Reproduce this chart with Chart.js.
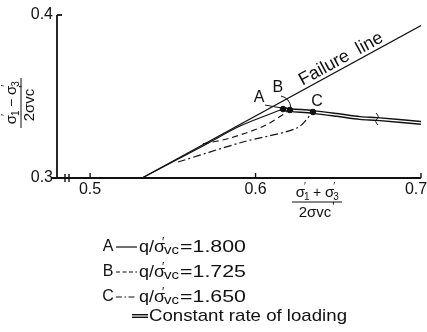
<!DOCTYPE html>
<html>
<head>
<meta charset="utf-8">
<script src="https://cdn.jsdelivr.net/npm/chart.js@4"></script>
<style>
  html, body { margin: 0; padding: 0; background: #fff; }
  #wrap { width: 427px; height: 332px; }
</style>
</head>
<body>
<div id="wrap"><canvas id="chart" width="427" height="332"></canvas></div>
<script>
// axis ranges and ticks
const xMin = 0.48, xMax = 0.7;
const yMin = 0.3, yMax = 0.4;
const xTicks = [0.5, 0.6, 0.7];
const yTicks = [0.3, 0.4];

// curves: [x, y]
const failureLine = [[0.5314, 0.3], [0.7, 0.3935]];
const curveA = [[0.5314, 0.3], [0.5682, 0.3196], [0.5906, 0.3319], [0.6166, 0.3423]];
const curveB = [[0.5682, 0.3209], [0.5846, 0.3245], [0.6057, 0.3322], [0.6208, 0.3417]];
const curveC = [[0.5531, 0.3098], [0.5924, 0.3221], [0.6251, 0.3307], [0.6347, 0.3405]];
const constantRate = [[0.6166, 0.3423], [0.6208, 0.3417], [0.6347, 0.3405], [0.6492, 0.3387],
  [0.6631, 0.3368], [0.6734, 0.3362], [0.7, 0.3338]];
const failPoints = [[0.6166, 0.3423], [0.6208, 0.3417], [0.6347, 0.3405]];
const pointNames = ['A', 'B', 'C'];
const loadRatios = ['1.800', '1.725', '1.650'];
const breakAt = [0.6734, 0.3362];

const xy = arr => arr.map(p => ({ x: p[0], y: p[1] }));
const FONT = '"Liberation Sans", Arial, sans-serif';

function line(ctx, x1, y1, x2, y2) {
  ctx.beginPath(); ctx.moveTo(x1, y1); ctx.lineTo(x2, y2); ctx.stroke();
}

function txt(ctx, s, x, y, size, align) {
  ctx.font = size + 'px ' + FONT;
  ctx.textAlign = align || 'left';
  ctx.textBaseline = 'middle';
  ctx.fillText(s, x, y);
  return ctx.measureText(s).width;
}

// text stretched to a given width, left aligned
function fit(ctx, s, x, y, size, width) {
  ctx.font = size + 'px ' + FONT;
  const w = ctx.measureText(s).width;
  ctx.save();
  ctx.translate(x, y);
  ctx.scale(width / w, 1);
  ctx.textAlign = 'left';
  ctx.textBaseline = 'middle';
  ctx.fillText(s, 0, 0);
  ctx.restore();
  return width;
}

// "σ′1 ± σ′3" centred at x
function sigmaPair(ctx, x, y, op) {
  const parts = [['σ', 15], [' ' + op + ' ', 14], ['σ', 15]];
  let w = 0;
  parts.forEach(p => { ctx.font = p[1] + 'px ' + FONT; w += ctx.measureText(p[0]).width + (p[0] === 'σ' ? 4 : 0); });
  let cx = x - w / 2;
  ctx.textAlign = 'left'; ctx.textBaseline = 'middle';
  parts.forEach((p, i) => {
    ctx.font = p[1] + 'px ' + FONT;
    ctx.fillText(p[0], cx, y);
    const mw = ctx.measureText(p[0]).width;
    if (p[0] === 'σ') {
      ctx.font = '10px ' + FONT;
      ctx.fillText('′', cx + mw - 1, y - 6);
      ctx.fillText(i === 0 ? '1' : '3', cx + mw - 1, y + 4);
      cx += mw + 4;
    } else cx += mw;
  });
  return w;
}

function denom(ctx, x, y) {
  ctx.font = '15px ' + FONT;
  const w = ctx.measureText('2σvc').width;
  txt(ctx, '2σvc', x - 2, y, 15, 'center');
  txt(ctx, "'", x - 1 + w / 2, y - 5, 12);
}

const decorations = {
  id: 'decorations',
  afterDraw(chart) {
    const { ctx, chartArea: a, scales: { x, y } } = chart;
    ctx.save();
    ctx.strokeStyle = '#111';
    ctx.fillStyle = '#111';

    // axes
    ctx.lineWidth = 1.8;
    line(ctx, a.left, a.top, a.left, a.bottom);
    line(ctx, a.left - 5, a.bottom, a.right, a.bottom);
    line(ctx, a.left, a.top, a.left + 5, a.top);
    // axis break
    ctx.lineWidth = 1.4;
    line(ctx, a.left + 8, a.bottom - 4, a.left + 8, a.bottom + 4);
    line(ctx, a.left + 12, a.bottom - 4, a.left + 12, a.bottom + 4);
    // x ticks, pointing up
    xTicks.forEach(v => {
      const px = x.getPixelForValue(v);
      line(ctx, px, a.bottom, px, a.bottom - 5);
      txt(ctx, v.toFixed(1), Math.min(px, 427 - 11), a.bottom + 12, 16, 'center');
    });
    yTicks.forEach(v => {
      txt(ctx, v.toFixed(1), a.left - 4, y.getPixelForValue(v), 16, 'right');
    });

    // x title
    const tx = 317;
    sigmaPair(ctx, tx, a.bottom + 15, '+');
    ctx.lineWidth = 1;
    line(ctx, tx - 25, a.bottom + 24, tx + 25, a.bottom + 24);
    denom(ctx, tx, a.bottom + 35);

    // y title, rotated
    ctx.save();
    ctx.translate(21, 103);
    ctx.rotate(-Math.PI / 2);
    sigmaPair(ctx, 0, -9, '−');
    line(ctx, -25, 0, 25, 0);
    denom(ctx, 0, 9);
    ctx.restore();

    // failure line label
    const p1 = [x.getPixelForValue(failureLine[0][0]), y.getPixelForValue(failureLine[0][1])];
    const p2 = [x.getPixelForValue(failureLine[1][0]), y.getPixelForValue(failureLine[1][1])];
    ctx.save();
    ctx.translate(341, 59);
    ctx.rotate(Math.atan2(p2[1] - p1[1], p2[0] - p1[0]));
    txt(ctx, 'Failure  line', 0, 0, 18, 'center');
    ctx.restore();

    // A, B, C labels with leaders
    const pts = failPoints.map(p => [x.getPixelForValue(p[0]), y.getPixelForValue(p[1])]);
    txt(ctx, 'A', pts[0][0] - 24, pts[0][1] - 11, 16, 'center');
    txt(ctx, 'B', pts[1][0] - 12, pts[1][1] - 22, 16, 'center');
    txt(ctx, 'C', pts[2][0] + 4, pts[2][1] - 10, 16, 'center');
    ctx.lineWidth = 1;
    line(ctx, pts[0][0] - 18, pts[0][1] - 4, pts[0][0] - 1, pts[0][1] - 1);
    ctx.beginPath();
    ctx.moveTo(pts[1][0] - 9, pts[1][1] - 14);
    ctx.quadraticCurveTo(pts[1][0], pts[1][1] - 12, pts[1][0] + 1, pts[1][1] - 2);
    ctx.stroke();

    // break mark on the constant rate curve
    const bx = x.getPixelForValue(breakAt[0]), by = y.getPixelForValue(breakAt[1]);
    ctx.lineWidth = 1;
    ctx.beginPath();
    ctx.moveTo(bx - 1, by - 6);
    ctx.quadraticCurveTo(bx + 3, by - 2, bx, by);
    ctx.quadraticCurveTo(bx - 3, by + 2, bx + 1, by + 6);
    ctx.stroke();

    // legend
    const rows = [247, 272, 297];
    const dashes = [[], [4, 2.5], [6, 2.5, 1.5, 2.5]];
    rows.forEach((ry, i) => {
      txt(ctx, pointNames[i], 108, ry, 16, 'center');
      ctx.lineWidth = 1.2;
      ctx.setLineDash(dashes[i]);
      line(ctx, 116, ry, 137, ry);
      ctx.setLineDash([]);
      let cx = 139;
      cx += fit(ctx, 'q/σ', cx, ry, 17, 26);
      txt(ctx, '′', cx - 3, ry - 4, 12);
      cx += fit(ctx, 'vc', cx - 1, ry + 3, 13, 15);
      fit(ctx, '=' + loadRatios[i], cx, ry, 17, 246 - cx);
    });
    ctx.lineWidth = 4;
    line(ctx, 132, 316, 148, 316);
    ctx.strokeStyle = '#fff';
    ctx.lineWidth = 1.2;
    line(ctx, 131, 316, 149, 316);
    ctx.fillStyle = '#111';
    fit(ctx, 'Constant rate of loading', 149, 316, 17, 198);

    ctx.restore();
  }
};

const black = '#111';
new Chart(document.getElementById('chart'), {
  type: 'scatter',
  data: {
    datasets: [
      { data: xy(failPoints), showLine: false, backgroundColor: black, borderColor: black, pointRadius: 2.8 },
      { data: xy(constantRate), showLine: true, borderColor: '#fff', borderWidth: 1.3, pointRadius: 0, tension: 0.3 },
      { data: xy(constantRate), showLine: true, borderColor: black, borderWidth: 4.2, pointRadius: 0, tension: 0.3 },
      { data: xy(failureLine), showLine: true, borderColor: black, borderWidth: 1.2, pointRadius: 0 },
      { data: xy(curveA), showLine: true, borderColor: black, borderWidth: 1.2, pointRadius: 0, tension: 0.3 },
      { data: xy(curveB), showLine: true, borderColor: black, borderWidth: 1.2, borderDash: [6, 4], pointRadius: 0, tension: 0.3 },
      { data: xy(curveC), showLine: true, borderColor: black, borderWidth: 1.2, borderDash: [8, 3, 2, 3], pointRadius: 0, tension: 0.3 }
    ]
  },
  options: {
    responsive: false,
    animation: false,
    layout: { padding: { left: 57, right: 6, top: 15, bottom: 154 } },
    scales: {
      x: { type: 'linear', min: xMin, max: xMax, display: false },
      y: { type: 'linear', min: yMin, max: yMax, display: false }
    },
    plugins: { legend: { display: false }, tooltip: { enabled: false } }
  },
  plugins: [decorations]
});
</script>
</body>
</html>
